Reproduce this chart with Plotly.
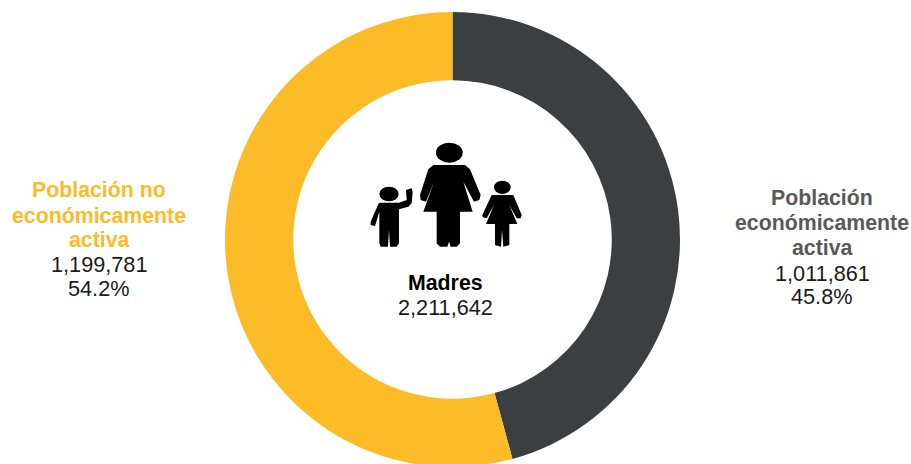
import plotly.graph_objects as go

W, H = 911, 470
categories = ["Población económicamente activa", "Población no económicamente activa"]
values = [1011861, 1199781]
colors = ["#3C3F41", "#FBBC28"]
total_title = "Madres"
total_label = "2,211,642"
right_lines = [("Población", True), ("económicamente", True), ("activa", True), ("1,011,861", False), ("45.8%", False)]
left_lines = [("Población no", True), ("económicamente", True), ("activa", True), ("1,199,781", False), ("54.2%", False)]
right_y = [198, 223, 248, 273, 296]
left_y = [190, 216, 240, 264, 288]

def px(x):
    return x / W
def py(y):
    return 1 - y / H

fig = go.Figure(go.Pie(
    labels=categories, values=values, hole=0.70, sort=False, direction="clockwise",
    rotation=0, marker=dict(colors=colors, line=dict(width=0)), textinfo="none",
    hoverinfo="label+value+percent",
    domain=dict(x=[px(225), px(680)], y=[py(467), py(12)]),
))

annotations = []
def add_text(x, y, text, color, bold=False):
    annotations.append(dict(
        x=px(x), y=py(y), xref="paper", yref="paper", text=f"<b>{text}</b>" if bold else text,
        showarrow=False, xanchor="center", yanchor="middle",
        font=dict(family="Liberation Sans, Arial, sans-serif", size=21.3 if bold else 21.7, color=color),
    ))
for (t, b), y in zip(right_lines, right_y):
    add_text(822, y, t, "#595959" if b else "#1a1a1a", b)
for (t, b), y in zip(left_lines, left_y):
    add_text(99, y, t, "#FBBC28" if b else "#1a1a1a", b)
add_text(445, 283, total_title, "#000000", True)
add_text(445, 307, total_label, "#1a1a1a", False)

# Family icon, outlined in zoomed-reference units
def zp(p):
    return px(350 + p[0] / 3), py(130 + p[1] / 3)
def poly(pts):
    c = [zp(p) for p in pts]
    return "M " + " L ".join(f"{x:.5f},{y:.5f}" for x, y in c) + " Z"
mother = [(250,105),(345,105),(360,118),(392,195),(388,210),(372,215),(340,155),(368,245),(330,245),(330,340),(320,350),(302,350),(297,335),(292,350),(270,350),(260,340),(260,245),(220,245),(252,155),(228,215),(212,210),(210,195),(235,118)]
boy = [(90,218),(147,218),(170,210),(168,180),(185,175),(188,185),(185,220),(175,230),(147,238),(147,340),(140,350),(120,350),(117,300),(114,350),(92,350),(88,340),(88,245),(75,288),(62,285),(62,275),(85,222)]
girl = [(425,195),(490,195),(515,255),(512,265),(500,265),(478,225),(502,282),(478,282),(478,345),(460,350),(456,300),(453,350),(435,345),(435,282),(408,282),(432,225),(410,265),(398,262),(397,255)]
shapes = [dict(type="path", path=poly(p), xref="paper", yref="paper", fillcolor="black", line=dict(width=0), layer="above") for p in (mother, boy, girl)]
for cx, cy, rx, ry in [(298,68,40,30),(117,192,29,22),(457,172,25,20)]:
    x0, y0 = zp((cx - rx, cy - ry))
    x1, y1 = zp((cx + rx, cy + ry))
    shapes.append(dict(type="circle", x0=x0, y0=y0, x1=x1, y1=y1, xref="paper", yref="paper", fillcolor="black", line=dict(width=0), layer="above"))

fig.update_layout(
    width=W, height=H, margin=dict(l=0, r=0, t=0, b=0), showlegend=False,
    paper_bgcolor="white", plot_bgcolor="white", annotations=annotations, shapes=shapes,
)
fig.write_html("out.html", config={"displayModeBar": False},
               post_script="document.body.style.margin='0';document.documentElement.style.overflow='hidden';document.body.style.overflow='hidden';")
